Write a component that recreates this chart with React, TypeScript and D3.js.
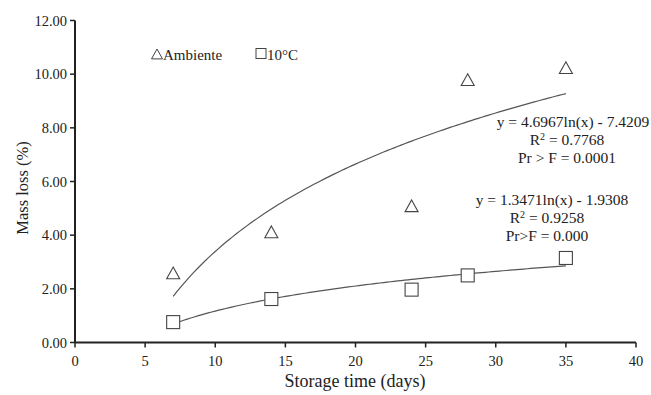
import React from 'react';
import * as d3 from 'd3';

// storage days and mass loss (%)
const days = [7, 14, 24, 28, 35];
const ambiente = [2.57, 4.1, 5.07, 9.77, 10.22];
const cold = [0.76, 1.62, 1.97, 2.5, 3.15];

// log trend coefficients as printed on the chart: y = a ln(x) + b
const ambienteFit = { a: 4.6967, b: -7.4209 };
const coldFit = { a: 1.3471, b: -1.9308 };

const xTicks = [0, 5, 10, 15, 20, 25, 30, 35, 40];
const yTicks = [0, 2, 4, 6, 8, 10, 12];

const W = 651;
const H = 395;
const margin = { top: 20.5, right: 15, bottom: 52.5, left: 75 };
const font = '"Liberation Serif", "Times New Roman", serif';
const ink = '#222';

const App = () => {
  const x = d3.scaleLinear().domain([0, 40]).range([margin.left, 636]);
  const y = d3.scaleLinear().domain([0, 12]).range([H - margin.bottom, margin.top]);

  const trend = (fit: { a: number; b: number }) => {
    const xs = d3.range(days[0], days[days.length - 1] + 0.001, 0.25);
    return d3.line<number>()
      .x(d => x(d))
      .y(d => y(fit.a * Math.log(d) + fit.b))(xs) || '';
  };

  const tri = (cx: number, cy: number, s = 6.5) =>
    `M${cx},${cy - s} L${cx + s},${cy + s * 0.8} L${cx - s},${cy + s * 0.8} Z`;

  const y0 = y(0);

  return (
    <svg width={W} height={H} style={{ position: 'absolute', left: 0, top: 0, background: '#fff' }}
      fontFamily={font} fill={ink}>
      {/* trend lines */}
      <path d={trend(ambienteFit)} fill="none" stroke="#555" strokeWidth={1.2} />
      <path d={trend(coldFit)} fill="none" stroke="#555" strokeWidth={1.2} />

      {/* markers */}
      {days.map((d, i) => (
        <path key={'a' + i} d={tri(x(d), y(ambiente[i]))} fill="none" stroke="#444" strokeWidth={1.1} />
      ))}
      {days.map((d, i) => (
        <rect key={'c' + i} x={x(d) - 6.5} y={y(cold[i]) - 6.5} width={13} height={13}
          fill="#fff" stroke="#444" strokeWidth={1.1} />
      ))}

      {/* axes */}
      <line x1={margin.left} x2={margin.left} y1={y(12)} y2={y0} stroke={ink} strokeWidth={2} />
      <line x1={margin.left} x2={x(40)} y1={y0} y2={y0} stroke={ink} strokeWidth={2} />
      {yTicks.map(t => (
        <g key={'y' + t}>
          <line x1={margin.left - 5} x2={margin.left} y1={y(t)} y2={y(t)} stroke={ink} strokeWidth={1.5} />
          <text x={margin.left - 8} y={y(t)} dy="0.35em" textAnchor="end" fontSize={14.5}>{t.toFixed(2)}</text>
        </g>
      ))}
      {xTicks.map(t => (
        <g key={'x' + t}>
          <line x1={x(t)} x2={x(t)} y1={y0} y2={y0 + 5} stroke={ink} strokeWidth={1.5} />
          <text x={x(t)} y={y0 + 23} textAnchor="middle" fontSize={14.5}>{t}</text>
        </g>
      ))}

      {/* axis titles */}
      <text x={355} y={387} textAnchor="middle" fontSize={18}>Storage time (days)</text>
      <text transform={`translate(28,188) rotate(-90)`} textAnchor="middle" fontSize={16.5}>Mass loss (%)</text>

      {/* legend */}
      <path d={tri(157, 54.5, 5.5)} fill="none" stroke="#444" strokeWidth={1} />
      <text x={163} y={59.5} fontSize={15}>Ambiente</text>
      <rect x={256} y={48.5} width={10} height={10} fill="none" stroke="#444" strokeWidth={1} />
      <text x={267} y={59.5} fontSize={15}>10°C</text>

      {/* equations */}
      <g fontSize={15.5} textAnchor="middle">
        <text x={573} y={127}>y = 4.6967ln(x) - 7.4209</text>
        <text x={567} y={145}>R<tspan fontSize={10} dy={-5}>2</tspan><tspan dy={5}> = 0.7768</tspan></text>
        <text x={567} y={163}>Pr &gt; F = 0.0001</text>
        <text x={552} y={205}>y = 1.3471ln(x) - 1.9308</text>
        <text x={547} y={223}>R<tspan fontSize={10} dy={-5}>2</tspan><tspan dy={5}> = 0.9258</tspan></text>
        <text x={547} y={241}>Pr&gt;F = 0.000</text>
      </g>
    </svg>
  );
};

export default App;
